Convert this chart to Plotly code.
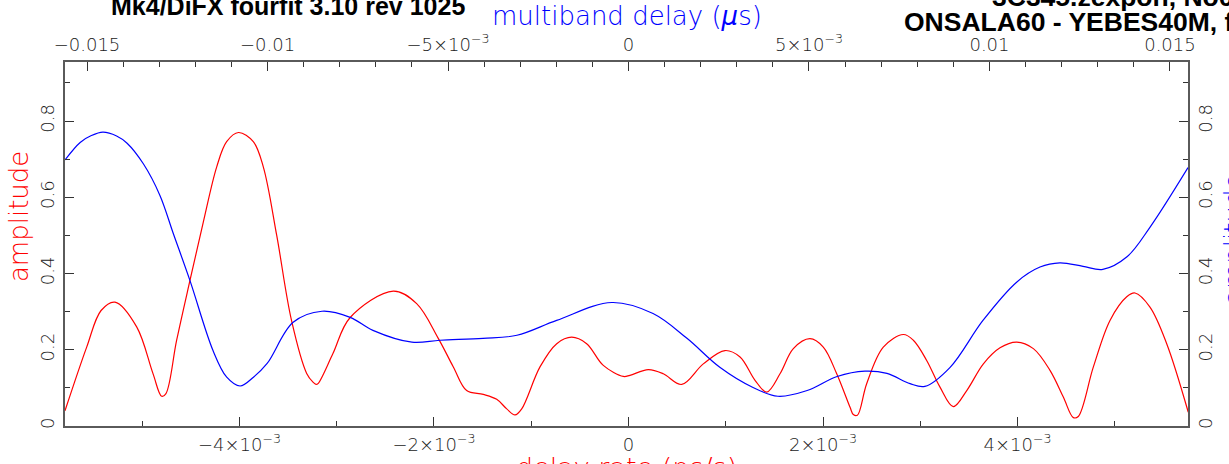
import plotly.graph_objects as go

# ---- data ----
# red: amplitude vs delay rate (ps/s)
rate_x = [-5.794e-3, -5.571e-3, -5.423e-3, -5.280e-3, -5.057e-3, -4.890e-3, -4.800e-3,
          -4.756e-3, -4.646e-3, -4.509e-3, -4.372e-3, -4.234e-3, -4.132e-3, -4.010e-3, -3.858e-3,
          -3.755e-3, -3.617e-3, -3.465e-3, -3.309e-3, -3.244e-3, -3.213e-3, -3.190e-3, -3.039e-3,
          -2.864e-3, -2.418e-3, -2.178e-3, -1.956e-3, -1.801e-3, -1.664e-3, -1.493e-3, -1.355e-3,
          -1.252e-3, -1.167e-3, -1.098e-3, -0.910e-3, -0.738e-3, -0.584e-3, -0.430e-3, -0.259e-3,
          -0.053e-3, 0.015e-3, 0.204e-3, 0.358e-3, 0.547e-3, 0.769e-3, 0.992e-3, 1.147e-3,
          1.301e-3, 1.421e-3, 1.558e-3, 1.695e-3, 1.866e-3, 2.003e-3, 2.141e-3, 2.278e-3,
          2.312e-3, 2.353e-3, 2.449e-3, 2.620e-3, 2.826e-3, 2.929e-3, 3.066e-3, 3.203e-3,
          3.340e-3, 3.478e-3, 3.649e-3, 3.820e-3, 3.992e-3, 4.163e-3, 4.334e-3, 4.471e-3,
          4.574e-3, 4.625e-3, 4.780e-3, 4.951e-3, 5.123e-3, 5.208e-3, 5.362e-3, 5.534e-3,
          5.756e-3]
rate_amp = [0.040, 0.207, 0.303, 0.325, 0.260, 0.138, 0.078,
            0.085, 0.225, 0.382, 0.535, 0.680, 0.746, 0.770, 0.746,
            0.680, 0.500, 0.277, 0.138, 0.115, 0.109, 0.112, 0.190,
            0.284, 0.354, 0.321, 0.230, 0.155, 0.093, 0.083, 0.070,
            0.045, 0.029, 0.045, 0.155, 0.216, 0.233, 0.216, 0.159,
            0.130, 0.133, 0.148, 0.137, 0.109, 0.163, 0.198, 0.181,
            0.120, 0.089, 0.137, 0.203, 0.229, 0.207, 0.137, 0.049,
            0.030, 0.028, 0.111, 0.207, 0.240, 0.225, 0.172, 0.102,
            0.051, 0.093, 0.163, 0.205, 0.220, 0.203, 0.146, 0.076,
            0.022, 0.025, 0.155, 0.277, 0.339, 0.349, 0.312, 0.216,
            0.036]

# blue: amplitude vs multiband delay (us)
mbd_x = [-15.61e-3, -15.19e-3, -14.88e-3, -14.56e-3, -14.18e-3, -13.89e-3, -13.44e-3, -12.98e-3,
         -12.61e-3, -12.15e-3, -11.51e-3, -11.13e-3, -10.76e-3, -10.39e-3, -10.01e-3, -9.29e-3,
         -8.49e-3, -7.71e-3, -7.08e-3, -6.00e-3, -5.22e-3, -4.03e-3, -3.09e-3, -1.99e-3,
         -0.46e-3, 0.68e-3, 1.62e-3, 2.53e-3, 3.45e-3, 4.14e-3, 4.95e-3, 5.78e-3,
         6.55e-3, 7.16e-3, 7.80e-3, 8.21e-3, 8.91e-3, 9.82e-3, 10.76e-3, 11.40e-3,
         11.95e-3, 12.59e-3, 13.14e-3, 13.81e-3, 14.45e-3, 15.50e-3]
mbd_amp = [0.698, 0.744, 0.762, 0.771, 0.761, 0.742, 0.688, 0.605,
           0.505, 0.382, 0.198, 0.128, 0.105, 0.128, 0.164, 0.272,
           0.301, 0.285, 0.251, 0.220, 0.225, 0.230, 0.238, 0.277,
           0.324, 0.295, 0.230, 0.154, 0.101, 0.078, 0.093, 0.130,
           0.144, 0.138, 0.111, 0.104, 0.154, 0.277, 0.378, 0.417,
           0.428, 0.419, 0.411, 0.444, 0.522, 0.678]

rate_ticks = [-4e-3, -2e-3, 0, 2e-3, 4e-3]
rate_tick_labels = ["\u22124\u00d710<sup>\u22123</sup>", "\u22122\u00d710<sup>\u22123</sup>", "0",
                    "2\u00d710<sup>\u22123</sup>", "4\u00d710<sup>\u22123</sup>"]
mbd_ticks = [-0.015, -0.01, -0.005, 0, 0.005, 0.01, 0.015]
mbd_tick_labels = ["\u22120.015", "\u22120.01", "\u22125\u00d710<sup>\u22123</sup>", "0",
                   "5\u00d710<sup>\u22123</sup>", "0.01", "0.015"]
amp_ticks = [0, 0.2, 0.4, 0.6, 0.8]
amp_tick_labels = ["0", "0.2", "0.4", "0.6", "0.8"]

title_left = "Mk4/DiFX fourfit 3.10 rev 1025"
title_right_1 = "3C345.zexpon, No0001"
title_right_2 = "ONSALA60 - YEBES40M, fgroup X, pol LL"

TXT = "DejaVu Sans"
FRAME = "#5a5a5a"
TICKC = "#333333"

fig = go.Figure()
fig.add_trace(go.Scatter(x=rate_x, y=rate_amp, mode="lines", xaxis="x", yaxis="y",
                         line=dict(color="#ff0000", width=1.2, shape="spline", smoothing=1.0),
                         showlegend=False, hoverinfo="skip"))
fig.add_trace(go.Scatter(x=mbd_x, y=mbd_amp, mode="lines", xaxis="x2", yaxis="y2",
                         line=dict(color="#0000ff", width=1.2, shape="spline", smoothing=1.0),
                         showlegend=False, hoverinfo="skip"))

common = dict(showgrid=False, zeroline=False, showline=True, linecolor=FRAME, linewidth=2,
              ticks="inside", tickcolor=TICKC, tickwidth=1.3, ticklen=9, automargin=False,
              tickfont=dict(family=TXT, size=18, color="#222222", weight=300))

def minor(dt):
    return dict(ticks="inside", ticklen=5, tickcolor=TICKC, tickwidth=1.3,
                tickmode="linear", tick0=0, dtick=dt, showgrid=False)

fig.update_layout(
    width=1229, height=464, autosize=False,
    margin=dict(l=65, r=41, t=62, b=38, pad=0, autoexpand=False),
    paper_bgcolor="white", plot_bgcolor="white",
    xaxis=dict(range=[-5.794e-3, 5.753e-3], side="bottom", anchor="y",
               tickmode="array", tickvals=rate_ticks, ticktext=rate_tick_labels,
               minor=minor(1e-3), ticklabelstandoff=1, **common),
    xaxis2=dict(range=[-0.01561, 0.01550], side="top", overlaying="x", anchor="y2",
                tickmode="array", tickvals=mbd_ticks, ticktext=mbd_tick_labels,
                minor=minor(1e-3), ticklabelstandoff=2, **common),
    yaxis=dict(range=[0, 0.955], side="left", anchor="x",
               tickmode="array", tickvals=amp_ticks, ticktext=amp_tick_labels, tickangle=-90,
               minor=minor(0.1), ticklabelstandoff=2, **common),
    yaxis2=dict(range=[0, 0.955], side="right", overlaying="y", anchor="x2",
                tickmode="array", tickvals=amp_ticks, ticktext=amp_tick_labels, tickangle=-90,
                minor=minor(0.1), ticklabelstandoff=0, **common),
)

ann = []
ann.append(dict(text="multiband delay (<i>\u03bc</i>s)", xref="paper", yref="paper", x=0.5, y=1,
                xanchor="center", yanchor="middle", yshift=46, showarrow=False,
                font=dict(family=TXT, size=26, color="#0000ff", weight=300)))
ann.append(dict(text="delay rate (ps/s)", xref="paper", yref="paper", x=0.5, y=0,
                xanchor="center", yanchor="middle", yshift=-41, showarrow=False,
                font=dict(family=TXT, size=27, color="#ff0000", weight=300)))
ann.append(dict(text="amplitude", xref="paper", yref="paper", x=0, y=0.574,
                xanchor="center", yanchor="middle", xshift=-46, textangle=-90, showarrow=False,
                font=dict(family=TXT, size=26, color="#ff0000", weight=300)))
ann.append(dict(text="amplitude", xref="paper", yref="paper", x=1, y=0.511,
                xanchor="center", yanchor="middle", xshift=46, textangle=-90, showarrow=False,
                font=dict(family=TXT, size=26, color="#0000ff", weight=300)))
ann.append(dict(text="<b>" + title_left + "</b>", xref="paper", yref="paper", x=0, y=1,
                xanchor="right", yanchor="bottom", xshift=402, yshift=40, showarrow=False,
                font=dict(family="Liberation Sans", size=25, color="black")))
ann.append(dict(text="<b>" + title_right_1 + "</b>", xref="paper", yref="paper", x=0, y=1,
                xanchor="left", yanchor="bottom", xshift=925, yshift=48, showarrow=False,
                font=dict(family="Liberation Sans", size=26.5, color="black")))
ann.append(dict(text="<b>" + title_right_2 + "</b>", xref="paper", yref="paper", x=0, y=1,
                xanchor="left", yanchor="bottom", xshift=837, yshift=23, showarrow=False,
                font=dict(family="Liberation Sans", size=26.5, color="black")))
fig.update_layout(annotations=ann)

fig.write_html("out.html", config={"displayModeBar": False},
               post_script="document.body.style.margin='0';document.body.style.padding='0';")
